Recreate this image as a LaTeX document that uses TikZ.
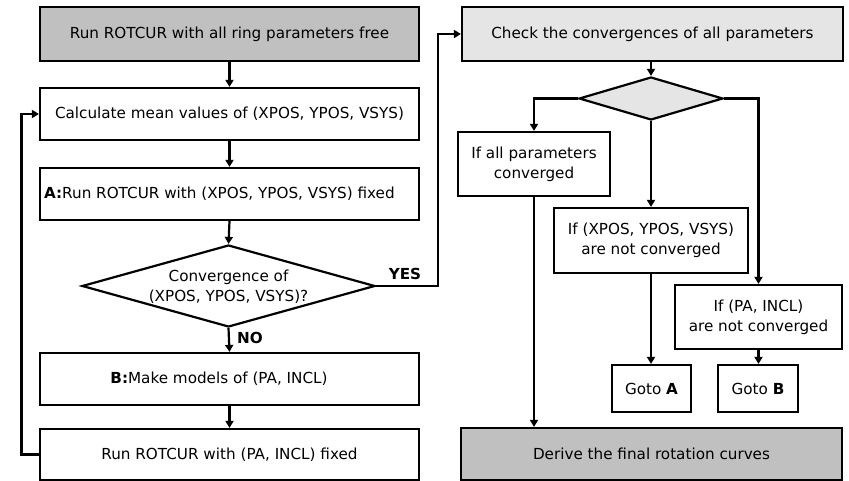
\documentclass[tikz,border=0pt]{standalone}
\usepackage{fontspec}
\setmainfont{DejaVu Sans}
\usetikzlibrary{arrows.meta,shapes.geometric}
\definecolor{darkfill}{RGB}{192,192,192}
\definecolor{lightfill}{RGB}{229,229,229}
\begin{document}
\begin{tikzpicture}[x=1pt,y=-1pt, line width=2.2pt,
 box/.style={draw, rectangle, inner sep=0pt, font=\fontsize{15.2}{20}\selectfont, align=center},
 dbox/.style={draw, diamond, inner sep=0pt},
 arr/.style={-{Triangle[length=7pt,width=8pt]}},
 txt/.style={inner sep=0pt, font=\fontsize{15.2}{20}\selectfont},
 yn/.style={inner sep=0pt, font=\fontsize{15.2}{18}\selectfont\bfseries},
]
\useasboundingbox (0,0) rectangle (849,481);
% left column
\node[box, fill=darkfill, minimum width=379pt, minimum height=54pt] (b1) at (229.5,34) {Run ROTCUR with all ring parameters free};
\node[box, minimum width=379pt, minimum height=52pt] (b2) at (229.5,114) {Calculate mean values of (XPOS, YPOS, VSYS)};
\node[box, minimum width=379pt, minimum height=52pt] (b3) at (229.5,194) {};
\node[txt, anchor=west] (b3t) at (43,194) {\textbf{A:}Run ROTCUR with (XPOS, YPOS, VSYS) fixed};
\node[dbox, minimum width=293pt, minimum height=82pt] (dia) at (228.5,286) {};
\node[txt, align=center] (diat) at (228.5,287) {Convergence of\\(XPOS, YPOS, VSYS)?};
\node[box, minimum width=379pt, minimum height=52pt] (bB) at (229.5,379) {};
\node[txt] (bBt) at (219,379) {\textbf{B:}Make models of (PA, INCL)};
\node[box, minimum width=379pt, minimum height=51pt] (bR) at (229.5,454.5) {Run ROTCUR with (PA, INCL) fixed};
% right column
\node[box, fill=lightfill, minimum width=381pt, minimum height=54pt] (chk) at (652.5,34) {Check the convergences of all parameters};
\node[dbox, fill=lightfill, minimum width=144pt, minimum height=43pt] (sd) at (651,98.5) {};
\node[box, minimum width=152pt, minimum height=64pt] (all) at (534,164) {If all parameters\\converged};
\node[box, minimum width=194pt, minimum height=65pt] (xp) at (651,240.5) {If (XPOS, YPOS, VSYS)\\are not converged};
\node[box, minimum width=167pt, minimum height=64pt] (pa) at (758.5,317) {If (PA, INCL)\\are not converged};
\node[box, minimum width=79pt, minimum height=47pt] (ga) at (651.5,388.5) {Goto \textbf{A}};
\node[box, minimum width=80pt, minimum height=47pt] (gb) at (758,388.5) {Goto \textbf{B}};
\node[box, fill=darkfill, minimum width=381pt, minimum height=52pt] (fin) at (651.5,454) {Derive the final rotation curves};
% connectors left
\draw[arr] (b1) -- (b2);
\draw[arr] (b2) -- (b3);
\draw[arr] (b3.south) -- (dia.north);
\draw[arr] (dia.south) -- (bB.north);
\node[yn, anchor=west] (no) at (236,338) {NO};
\draw[arr] (bB) -- (bR);
\coordinate (lp) at (21.5,454.5);
\draw[arr] (bR.west) -- (lp) |- (b2.west);
\coordinate (yc) at (438,286);
\draw[arr] (dia.east) -- (yc) |- (chk.west);
\node[yn] (yes) at (405,274) {YES};
% connectors right
\draw[arr] (chk.south -| sd.north) -- (sd.north);
\draw[arr] (sd.west) -| (all.north);
\draw[arr] (sd.south) -- (xp.north -| sd.south);
\draw[arr] (sd.east) -| (pa.north);
\draw[arr] (all.south) -- (all.south |- fin.north);
\draw[arr] (xp.south) -- (xp.south |- ga.north);
\draw[arr] (pa.south) -- (pa.south |- gb.north);
\end{tikzpicture}
\end{document}
